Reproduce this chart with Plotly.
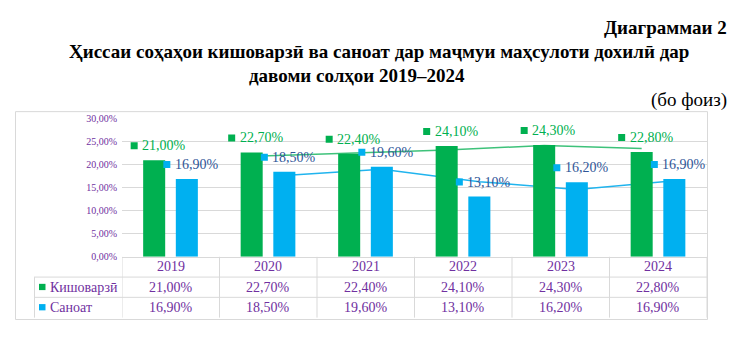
import plotly.graph_objects as go

# ---- data ----
years = ["2019", "2020", "2021", "2022", "2023", "2024"]
agri = [21.0, 22.7, 22.4, 24.1, 24.3, 22.8]
industry = [16.9, 18.5, 19.6, 13.1, 16.2, 16.9]
agri_labels = ["21,00%", "22,70%", "22,40%", "24,10%", "24,30%", "22,80%"]
industry_labels = ["16,90%", "18,50%", "19,60%", "13,10%", "16,20%", "16,90%"]
# trend lines (2-period moving average), from 2020 to 2024
agri_trend = [21.85, 22.55, 23.25, 24.2, 23.55]
industry_trend = [17.7, 19.05, 16.35, 14.65, 16.55]
y_ticks = [0, 5, 10, 15, 20, 25, 30]
y_tick_text = ["0,00%", "5,00%", "10,00%", "15,00%", "20,00%", "25,00%", "30,00%"]
series_names = ["Кишоварзӣ", "Саноат"]

title1 = "Диаграммаи 2"
title2 = "Ҳиссаи соҳаҳои кишоварзӣ ва саноат дар маҷмуи маҳсулоти дохилӣ дар"
title3 = "давоми солҳои 2019–2024"
unit = "(бо фоиз)"

# ---- style ----
W, H = 736, 340
GREEN = "#00B050"
BLUE = "#00B0F0"
GREEN_LBL = "#00B050"
BLUE_LBL = "#2F5597"
PURPLE = "#7030A0"
GRID = "#D9D9D9"
FONT = "Liberation Serif"

def px(p):
    return p / W

def py(p):
    return 1 - p / H

idx = list(range(len(years)))
BW = 0.226
G_OFF = -0.283
B_OFF = 0.052
g_center = [i + G_OFF + BW / 2 for i in idx]
b_center = [i + B_OFF + BW / 2 for i in idx]

fig = go.Figure()

# trend lines (main axes, drawn below bars)
fig.add_trace(go.Scatter(x=g_center[1:], y=agri_trend, mode="lines",
                         line=dict(color="#3EC27A", width=1.5),
                         xaxis="x", yaxis="y", showlegend=False, hoverinfo="skip"))
fig.add_trace(go.Scatter(x=b_center[1:], y=industry_trend, mode="lines",
                         line=dict(color="#20B4EE", width=1.5),
                         xaxis="x", yaxis="y", showlegend=False, hoverinfo="skip"))

# bars on overlay axes (drawn above lines)
fig.add_trace(go.Bar(x=idx, y=agri, width=BW, offset=G_OFF, marker=dict(color=GREEN, line=dict(width=0)),
                     xaxis="x2", yaxis="y2", showlegend=False, name=series_names[0]))
fig.add_trace(go.Bar(x=idx, y=industry, width=BW, offset=B_OFF, marker=dict(color=BLUE, line=dict(width=0)),
                     xaxis="x2", yaxis="y2", showlegend=False, name=series_names[1]))

X_DOM = [px(122), px(707)]
Y_DOM = [py(260), py(117)]

fig.update_layout(
    width=W, height=H,
    margin=dict(l=0, r=0, t=0, b=0),
    paper_bgcolor="white", plot_bgcolor="white",
    barmode="overlay",
    font=dict(family=FONT, color=PURPLE),
    xaxis=dict(domain=X_DOM, range=[-0.5, 5.5], showgrid=False, zeroline=False,
               showticklabels=False, ticks="", showline=True, linecolor=GRID, linewidth=1,
               fixedrange=True),
    yaxis=dict(domain=Y_DOM, range=[0, 30], tickvals=y_ticks, ticktext=y_tick_text,
               showgrid=True, gridcolor=GRID, gridwidth=1, zeroline=False, showline=False,
               ticks="", tickfont=dict(family=FONT, size=10, color=PURPLE),
               ticklabelstandoff=4, fixedrange=True),
    xaxis2=dict(overlaying="x", range=[-0.5, 5.5], visible=False, fixedrange=True),
    yaxis2=dict(overlaying="y", range=[0, 30], visible=False, fixedrange=True),
)

annotations = []
shapes = []

# titles
TS = 19
annotations.append(dict(text="<b>" + title1 + "</b>", x=px(729), y=py(22), xref="paper", yref="paper",
                        xanchor="right", yanchor="middle", showarrow=False,
                        font=dict(family=FONT, size=TS, color="black")))
annotations.append(dict(text="<b>" + title2 + "</b>", x=px(379), y=py(47), xref="paper", yref="paper",
                        xanchor="center", yanchor="middle", showarrow=False,
                        font=dict(family=FONT, size=TS, color="black")))
annotations.append(dict(text="<b>" + title3 + "</b>", x=px(357), y=py(72), xref="paper", yref="paper",
                        xanchor="center", yanchor="middle", showarrow=False,
                        font=dict(family=FONT, size=TS, color="black")))
annotations.append(dict(text=unit, x=px(729), y=py(97), xref="paper", yref="paper",
                        xanchor="right", yanchor="middle", showarrow=False,
                        font=dict(family=FONT, size=TS, color="black")))

# chart border
shapes.append(dict(type="rect", xref="paper", yref="paper", x0=px(15.5), x1=px(707.5),
                   y0=py(325), y1=py(109.5), line=dict(color=GRID, width=1), layer="below"))

# data labels with legend-key squares
for centers, vals, labels, sq_col, txt_col in [
    (g_center, agri, agri_labels, GREEN, GREEN_LBL),
    (b_center, industry, industry_labels, BLUE, BLUE_LBL),
]:
    for c, v, t in zip(centers, vals, labels):
        annotations.append(dict(text=t, x=c, y=v, xref="x", yref="y", xshift=10, yshift=14.5,
                                xanchor="center", yanchor="middle", showarrow=False,
                                font=dict(family=FONT, size=14, color=txt_col)))
        shapes.append(dict(type="rect", xref="x", yref="y", xsizemode="pixel", ysizemode="pixel",
                           xanchor=c, yanchor=v, x0=-23.5, x1=-16.5, y0=11, y1=18,
                           fillcolor=sq_col, line=dict(width=0), layer="above"))

# data table
ROW_Y = [270.5, 291.5, 312.5]
for i, yr in enumerate(years):
    annotations.append(dict(text=yr, x=i, y=py(ROW_Y[0]), xref="x", yref="paper",
                            xanchor="center", yanchor="middle", showarrow=False,
                            font=dict(family=FONT, size=14, color=PURPLE)))
    annotations.append(dict(text=agri_labels[i], x=i, y=py(ROW_Y[1]), xref="x", yref="paper",
                            xanchor="center", yanchor="middle", showarrow=False,
                            font=dict(family=FONT, size=14, color=PURPLE)))
    annotations.append(dict(text=industry_labels[i], x=i, y=py(ROW_Y[2]), xref="x", yref="paper",
                            xanchor="center", yanchor="middle", showarrow=False,
                            font=dict(family=FONT, size=14, color=PURPLE)))

# legend column
for r, (name, col) in enumerate(zip(series_names, [GREEN, BLUE])):
    yc = ROW_Y[r + 1]
    shapes.append(dict(type="rect", xref="paper", yref="paper", x0=px(39), x1=px(45.5),
                       y0=py(yc + 3), y1=py(yc - 3.5), fillcolor=col, line=dict(width=0)))
    annotations.append(dict(text=name, x=px(48), y=py(yc), xref="paper", yref="paper",
                            xanchor="left", yanchor="middle", showarrow=False,
                            font=dict(family=FONT, size=14, color=PURPLE)))

# table grid lines
for yl in [281, 302]:
    shapes.append(dict(type="line", xref="paper", yref="paper", x0=px(34), x1=px(707),
                       y0=py(yl), y1=py(yl), line=dict(color=GRID, width=1)))
shapes.append(dict(type="line", xref="paper", yref="paper", x0=px(34.5), x1=px(34.5),
                   y0=py(281), y1=py(323), line=dict(color=GRID, width=1)))
for k in range(len(years) + 1):
    shapes.append(dict(type="line", xref="x", yref="paper", x0=k - 0.5, x1=k - 0.5,
                       y0=py(260), y1=py(323), line=dict(color=GRID, width=1)))

fig.update_layout(annotations=annotations, shapes=shapes)

fig.write_html("out.html")
